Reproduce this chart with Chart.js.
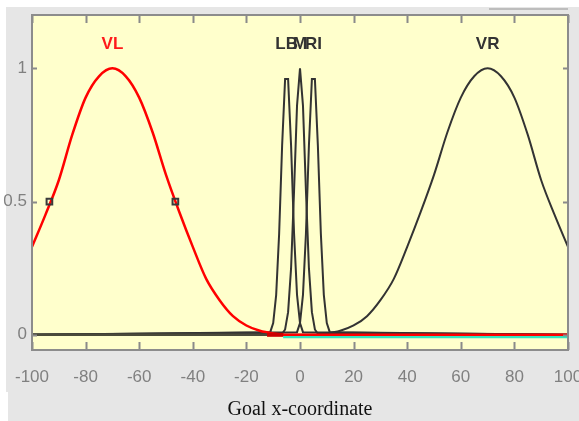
<!DOCTYPE html>
<html>
<head>
<meta charset="utf-8">
<script src="https://cdn.jsdelivr.net/npm/chart.js@4/dist/chart.umd.min.js"></script>
<style>
  html, body { margin: 0; padding: 0; background: #fff; }
  canvas { display: block; }
</style>
</head>
<body>
<canvas id="mf" width="579" height="421"></canvas>
<script>
// Funcoes de pertenca (x em unidades do eixo, y em grau)
const vlX = [-100, -95, -90, -85, -80, -75, -70, -65, -60, -55, -50, -45, -40, -35, -30, -25, -20, -15, -10, -5, 100];
const vlY = [0.33, 0.45, 0.58, 0.75, 0.89, 0.97, 1.0, 0.97, 0.89, 0.76, 0.60, 0.46, 0.33, 0.21, 0.13, 0.07, 0.035, 0.015, 0.005, 0, 0];

const vrX = [-100, 5, 10, 15, 20, 25, 30, 35, 40, 45, 50, 55, 60, 65, 70, 75, 80, 85, 90, 95, 100];
const vrY = [0, 0, 0.005, 0.015, 0.035, 0.07, 0.13, 0.21, 0.33, 0.46, 0.60, 0.76, 0.89, 0.97, 1.0, 0.97, 0.89, 0.75, 0.58, 0.45, 0.33];

const lbX = [-100, -11.11, -10, -8.89, -7.78, -6.67, -5.56, -4.44, -3.33, -2.22, -1.11, 0, 1.11, 100];
const lbY = [0, 0.01, 0.044, 0.15, 0.38, 0.71, 0.96, 0.96, 0.71, 0.38, 0.15, 0.044, 0.01, 0];

const mX = [-100, -6.67, -5.56, -4.44, -3.33, -2.22, -1.11, 0, 1.11, 2.22, 3.33, 4.44, 5.56, 6.67, 100];
const mY = [0, 0.004, 0.02, 0.085, 0.25, 0.54, 0.86, 1.0, 0.86, 0.54, 0.25, 0.085, 0.02, 0.004, 0];

const riX = [-100, -1.11, 0, 1.11, 2.22, 3.33, 4.44, 5.56, 6.67, 7.78, 8.89, 10, 11.11, 100];
const riY = [0, 0.01, 0.044, 0.15, 0.38, 0.71, 0.96, 0.96, 0.71, 0.38, 0.15, 0.044, 0.01, 0];

// pontos 0.5 marcados em VL
const halfX = [-93.5, -46.5];
const halfY = [0.5, 0.5];

// linhas de base
const baseDarkX = [-100, -12.3];
const baseRedX = [-12.3, -6.3];
const baseCyanX = [-6.3, 100];

// rotulos
const mfNames = ['VL', 'LB', 'M', 'RI', 'VR'];
const mfCenters = [-70, -5, 0, 5, 70];
const mfLabelY = 1.09;
const yTickValues = [0, 0.5, 1];

const pts = (xs, ys) => xs.map((x, i) => ({ x, y: ys[i] }));
const flat = (xs, v) => xs.map(x => ({ x, y: v }));

const SANS = "'Liberation Sans Narrow', 'Liberation Sans', Arial, sans-serif";
const CURVA = '#333333';

// fundo: janela cinzenta + area amarela
const fundo = {
  id: 'fundo',
  beforeDraw(chart) {
    const { ctx, chartArea: a } = chart;
    ctx.save();
    ctx.fillStyle = '#ffffff';
    ctx.fillRect(0, 0, chart.width, chart.height);
    ctx.fillStyle = '#e6e6e6';
    ctx.fillRect(6, 7, chart.width - 6, chart.height - 7);
    ctx.fillStyle = '#ffffff';
    ctx.fillRect(0, 392, 8, chart.height - 392);
    ctx.fillStyle = '#bdbdbd';
    ctx.fillRect(489, 8, 79, 2);
    ctx.fillStyle = '#ffffcc';
    ctx.fillRect(a.left, a.top, a.right - a.left, a.bottom - a.top);
    ctx.restore();
  }
};

// rotulos das funcoes
const rotulos = {
  id: 'rotulos',
  afterDatasetsDraw(chart) {
    const { ctx, scales: { x, y } } = chart;
    ctx.save();
    ctx.font = 'bold 17px ' + SANS;
    ctx.textAlign = 'center';
    ctx.textBaseline = 'middle';
    mfNames.forEach((n, i) => {
      ctx.fillStyle = n === 'VL' ? '#ff1a1a' : '#333333';
      ctx.fillText(n, x.getPixelForValue(mfCenters[i]), y.getPixelForValue(mfLabelY));
    });
    ctx.restore();
  }
};

// moldura e tracos para dentro (estilo MATLAB)
const moldura = {
  id: 'moldura',
  afterDraw(chart) {
    const { ctx, chartArea: a, scales: { x, y } } = chart;
    ctx.save();
    ctx.strokeStyle = '#8a8a8a';
    ctx.lineWidth = 2;
    x.ticks.forEach(t => {
      const px = Math.round(x.getPixelForValue(t.value)) + 0.5;
      ctx.beginPath();
      ctx.moveTo(px, a.top); ctx.lineTo(px, a.top + 8);
      ctx.moveTo(px, a.bottom); ctx.lineTo(px, a.bottom - 8);
      ctx.stroke();
    });
    y.ticks.forEach(t => {
      const py = Math.round(y.getPixelForValue(t.value)) + 0.5;
      ctx.beginPath();
      ctx.moveTo(a.left, py); ctx.lineTo(a.left + 5, py);
      ctx.moveTo(a.right, py); ctx.lineTo(a.right - 5, py);
      ctx.stroke();
    });
    ctx.strokeStyle = '#8c8c8c';
    ctx.strokeRect(a.left, a.top, a.right - a.left, a.bottom - a.top);
    ctx.restore();
  }
};

const linha = (data, color, width, order, tension) => ({
  data, borderColor: color, borderWidth: width, pointRadius: 0,
  tension: tension || 0, cubicInterpolationMode: tension ? 'monotone' : 'default',
  fill: false, order
});

new Chart(document.getElementById('mf'), {
  type: 'line',
  data: {
    datasets: [
      { type: 'scatter', data: pts(halfX, halfY), pointStyle: 'rect', pointRadius: 4,
        borderColor: '#3a3a3a', borderWidth: 2, backgroundColor: 'rgba(0,0,0,0)', order: 1 },
      linha(flat(baseDarkX, 0), '#4a4a3a', 2.5, 2),
      linha(flat(baseRedX, 0), '#cc0000', 4, 3),
      linha(pts(vlX, vlY), '#ff0000', 2.5, 4, 0.4),
      linha(pts(vrX, vrY), CURVA, 2, 6, 0.4),
      linha(pts(lbX, lbY), CURVA, 2, 6),
      linha(pts(mX, mY), CURVA, 2, 6),
      linha(pts(riX, riY), CURVA, 2, 6),
      linha(flat(baseCyanX, -0.008), '#33e6c0', 2.5, 10)
    ]
  },
  options: {
    responsive: false,
    animation: false,
    events: [],
    layout: { padding: { left: 0, top: 15, right: 11, bottom: 0 } },
    plugins: { legend: { display: false }, tooltip: { enabled: false } },
    scales: {
      x: {
        type: 'linear', min: -100, max: 100,
        ticks: { stepSize: 20, color: '#808080', padding: 17, maxRotation: 0, autoSkip: false,
                 font: { family: SANS, size: 17 } },
        grid: { display: false, drawTicks: false },
        border: { display: false },
        title: { display: true, text: 'Goal x-coordinate', color: '#111',
                 font: { family: "'Liberation Serif', 'Times New Roman', serif", size: 20 },
                 padding: { top: 0, bottom: -1 } },
        afterFit(s) { s.height = 71; s.paddingLeft = 0; s.paddingRight = 0; }
      },
      y: {
        min: -0.057, max: 1.2,
        afterBuildTicks(s) { s.ticks = yTickValues.map(v => ({ value: v })); },
        ticks: { color: '#808080', padding: 5, font: { family: SANS, size: 17 },
                 callback: v => String(v) },
        grid: { display: false, drawTicks: false },
        border: { display: false },
        afterFit(s) { s.width = 32; s.paddingTop = 0; s.paddingBottom = 0; }
      }
    }
  },
  plugins: [fundo, rotulos, moldura]
});
</script>
</body>
</html>
